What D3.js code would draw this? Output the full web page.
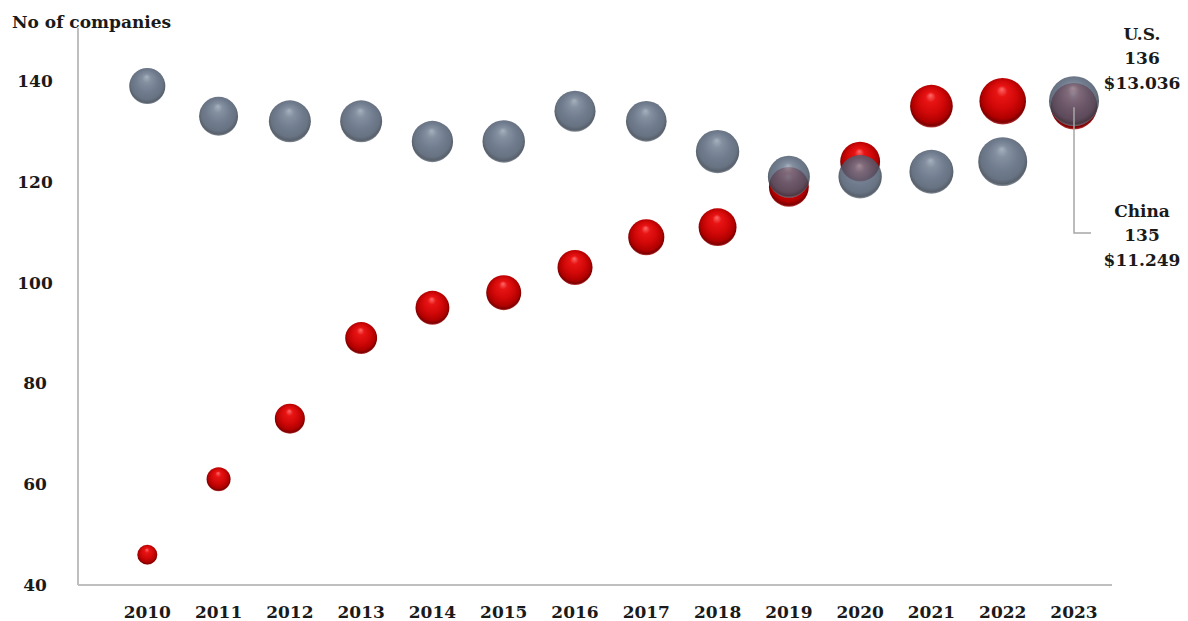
<!DOCTYPE html>
<html>
<head>
<meta charset="utf-8">
<script src="https://cdn.jsdelivr.net/npm/d3@7/dist/d3.min.js"></script>
<style>
  html, body { margin: 0; padding: 0; background: #ffffff; }
  svg { display: block; }
  text { font-family: "DejaVu Serif", "Liberation Serif", serif; font-weight: bold; fill: #1a1a1a; }
</style>
</head>
<body>
<svg id="chart" width="1188" height="621"></svg>
<script>
// Fortune Global 500: number of companies per country and their combined revenue ($ trillion)
const years = [2010, 2011, 2012, 2013, 2014, 2015, 2016, 2017, 2018, 2019, 2020, 2021, 2022, 2023];
const usCount = [139, 133, 132, 132, 128, 128, 134, 132, 126, 121, 121, 122, 124, 136];
const chinaCount = [46, 61, 73, 89, 95, 98, 103, 109, 111, 119, 124, 135, 136, 135];
const usRevenue = [6.8, 7.9, 9.2, 9.2, 8.9, 9.4, 8.8, 8.6, 9.8, 9.2, 9.8, 10.1, 12.5, 13.036];
const chinaRevenue = [2.1, 3.0, 4.7, 5.3, 6.0, 6.4, 6.4, 6.8, 7.5, 8.3, 8.3, 9.5, 11.3, 11.249];
const yTicks = [40, 60, 80, 100, 120, 140];

const svg = d3.select("#chart");
const fontSize = 17;

const x = d3.scaleLinear().domain([2010, 2023]).range([147.3, 1074]);
const y = d3.scaleLinear().domain([40, 140]).range([585, 81]);
const r = d3.scaleSqrt().domain([0, 13.036]).range([0, 25]);

// sphere-like shading
const defs = svg.append("defs");
function sphere(id, stops) {
  const g = defs.append("radialGradient")
    .attr("id", id).attr("cx", "50%").attr("cy", "47%").attr("r", "54%")
    .attr("fx", "48%").attr("fy", "24%");
  stops.forEach(([o, c]) => g.append("stop").attr("offset", o).attr("stop-color", c));
}
sphere("gradUS", [["0%", "#96a3b3"], ["22%", "#6d7b8e"], ["55%", "#56657a"], ["82%", "#4a576a"], ["93%", "#38424f"], ["100%", "#7f8894"]]);
sphere("gradCN", [["0%", "#ff6a6a"], ["22%", "#e81414"], ["55%", "#d20808"], ["82%", "#b00000"], ["93%", "#7e0000"], ["100%", "#c85050"]]);

// axes lines
svg.append("line")
  .attr("x1", 78).attr("x2", 78).attr("y1", 28).attr("y2", y(40))
  .attr("stroke", "#bfbfbf").attr("stroke-width", 2);
svg.append("line")
  .attr("x1", 78).attr("x2", 1112).attr("y1", y(40)).attr("y2", y(40))
  .attr("stroke", "#bfbfbf").attr("stroke-width", 2);

// y tick labels
svg.append("g").selectAll("text").data(yTicks).join("text")
  .attr("x", 35).attr("y", d => y(d))
  .attr("dy", "0.35em").attr("text-anchor", "middle")
  .attr("font-size", fontSize).text(d => d);

// x tick labels
svg.append("g").selectAll("text").data(years).join("text")
  .attr("x", d => x(d)).attr("y", 612)
  .attr("dy", "0.35em").attr("text-anchor", "middle")
  .attr("font-size", fontSize).text(d => d);

// axis title
svg.append("text").attr("x", 12).attr("y", 28)
  .attr("font-size", fontSize).text("No of companies");

// bubbles: China first, U.S. on top with slight transparency
const china = years.map((yr, i) => ({ yr, v: chinaCount[i], rev: chinaRevenue[i] }));
const us = years.map((yr, i) => ({ yr, v: usCount[i], rev: usRevenue[i] }));

svg.append("g").selectAll("circle").data(china).join("circle")
  .attr("cx", d => x(d.yr)).attr("cy", d => y(d.v)).attr("r", d => r(d.rev))
  .attr("fill", "url(#gradCN)");

svg.append("g").selectAll("circle").data(us).join("circle")
  .attr("cx", d => x(d.yr)).attr("cy", d => y(d.v)).attr("r", d => r(d.rev))
  .attr("fill", "url(#gradUS)").attr("fill-opacity", 0.84);

// callouts for 2023
const last = years.length - 1;
const lx = x(years[last]);
svg.append("path")
  .attr("d", `M${lx},${y(chinaCount[last]) + 1} V233 H1091`)
  .attr("fill", "none").attr("stroke", "#a6a6a6").attr("stroke-width", 1.5);

function callout(lines, top) {
  svg.append("g").selectAll("text").data(lines).join("text")
    .attr("x", 1142).attr("y", (d, i) => top + i * 24.5)
    .attr("dy", "0.35em").attr("text-anchor", "middle")
    .attr("font-size", fontSize).text(d => d);
}
callout(["U.S.", String(usCount[last]), "$" + usRevenue[last].toFixed(3)], 34);
callout(["China", String(chinaCount[last]), "$" + chinaRevenue[last].toFixed(3)], 211);
</script>
</body>
</html>
